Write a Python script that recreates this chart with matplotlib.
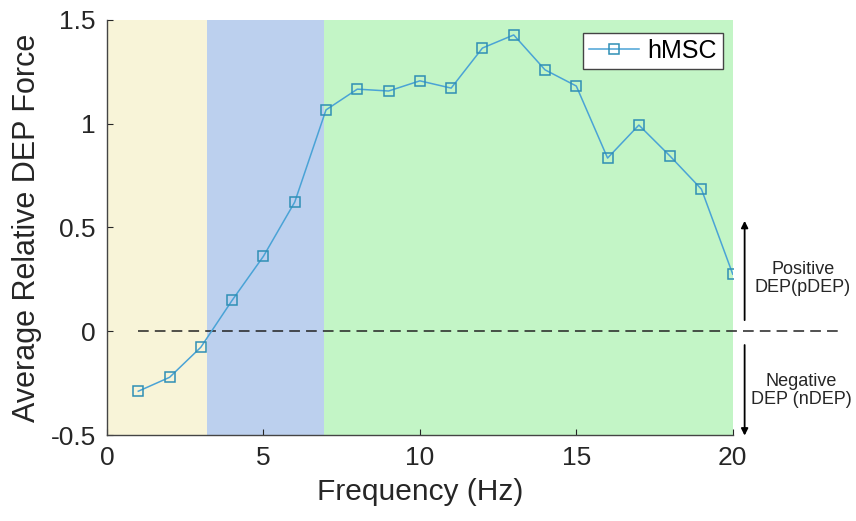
import numpy as np
import matplotlib
matplotlib.use("Agg")
import matplotlib.pyplot as plt

plt.rcParams['font.family'] = ['Liberation Sans', 'DejaVu Sans']

# frequency (Hz) and average relative DEP force for hMSC
freq = [1, 2, 3, 4, 5, 6, 7, 8, 9, 10, 11, 12, 13, 14, 15, 16, 17, 18, 19, 20]
force = [-0.289, -0.222, -0.077, 0.149, 0.361, 0.622, 1.066, 1.166, 1.157, 1.206,
         1.171, 1.364, 1.427, 1.259, 1.181, 0.834, 0.993, 0.843, 0.684, 0.275]

# shaded frequency bands (start, end, colour)
bands = [(0, 3.2, '#f8f4d8'), (3.2, 6.95, '#bcd0ee'), (6.95, 20, '#c3f5c6')]

txt = '#262626'

fig = plt.figure(figsize=(8.56, 5.21), dpi=100)
ax = fig.add_axes([0.125, 0.165, 0.731, 0.797])

for x0, x1, c in bands:
    ax.axvspan(x0, x1, color=c, lw=0, zorder=0)

ax.plot([1, 23.36], [0, 0], ls=(0, (7, 4)), color='#222222', lw=1.1, clip_on=False, zorder=2)

ax.plot(freq, force, color='#4aa3d6', lw=1.1, marker='s', markersize=7,
        markerfacecolor='none', markeredgecolor='#2f8fb5', markeredgewidth=1.1,
        label='hMSC', zorder=3)

ax.set_xlim(0, 20)
ax.set_ylim(-0.5, 1.5)
ax.set_xticks([0, 5, 10, 15, 20])
ax.set_yticks([-0.5, 0, 0.5, 1, 1.5])
ax.set_yticklabels(['-0.5', '0', '0.5', '1', '1.5'])
ax.tick_params(direction='in', length=4, labelsize=19, colors=txt, top=False, right=False, pad=8)
for s in ['top', 'right']:
    ax.spines[s].set_visible(False)
for s in ['left', 'bottom']:
    ax.spines[s].set_color('#444444')
    ax.spines[s].set_linewidth(1.0)

ax.set_xlabel('Frequency (Hz)', fontsize=21.5, color=txt, labelpad=6)
ax.set_ylabel('Average Relative DEP Force', fontsize=22, color=txt, labelpad=6)

leg = ax.legend(loc='upper right', fontsize=18, frameon=True, fancybox=False,
                handlelength=2.0, borderpad=0.25, handletextpad=0.3,
                borderaxespad=0, framealpha=1,
                bbox_to_anchor=(0.984, 0.969))
leg.get_frame().set_edgecolor('#444444')
leg.get_frame().set_facecolor('white')
leg.get_frame().set_linewidth(1.0)

# pDEP / nDEP arrows outside the axes
ax.annotate('', xy=(20.38, 0.545), xytext=(20.38, 0.04),
            arrowprops=dict(arrowstyle='-|>', color='black', lw=1.3, mutation_scale=10),
            annotation_clip=False)
ax.annotate('', xy=(20.38, -0.516), xytext=(20.38, -0.053),
            arrowprops=dict(arrowstyle='-|>', color='black', lw=1.3, mutation_scale=10),
            annotation_clip=False)
ax.text(22.24, 0.255, 'Positive\nDEP(pDEP)', ha='center', va='center', fontsize=13,
        color=txt, linespacing=1.1, clip_on=False)
ax.text(22.2, -0.284, 'Negative\nDEP (nDEP)', ha='center', va='center', fontsize=13,
        color=txt, linespacing=1.1, clip_on=False)

fig.savefig('out.png', dpi=100)
